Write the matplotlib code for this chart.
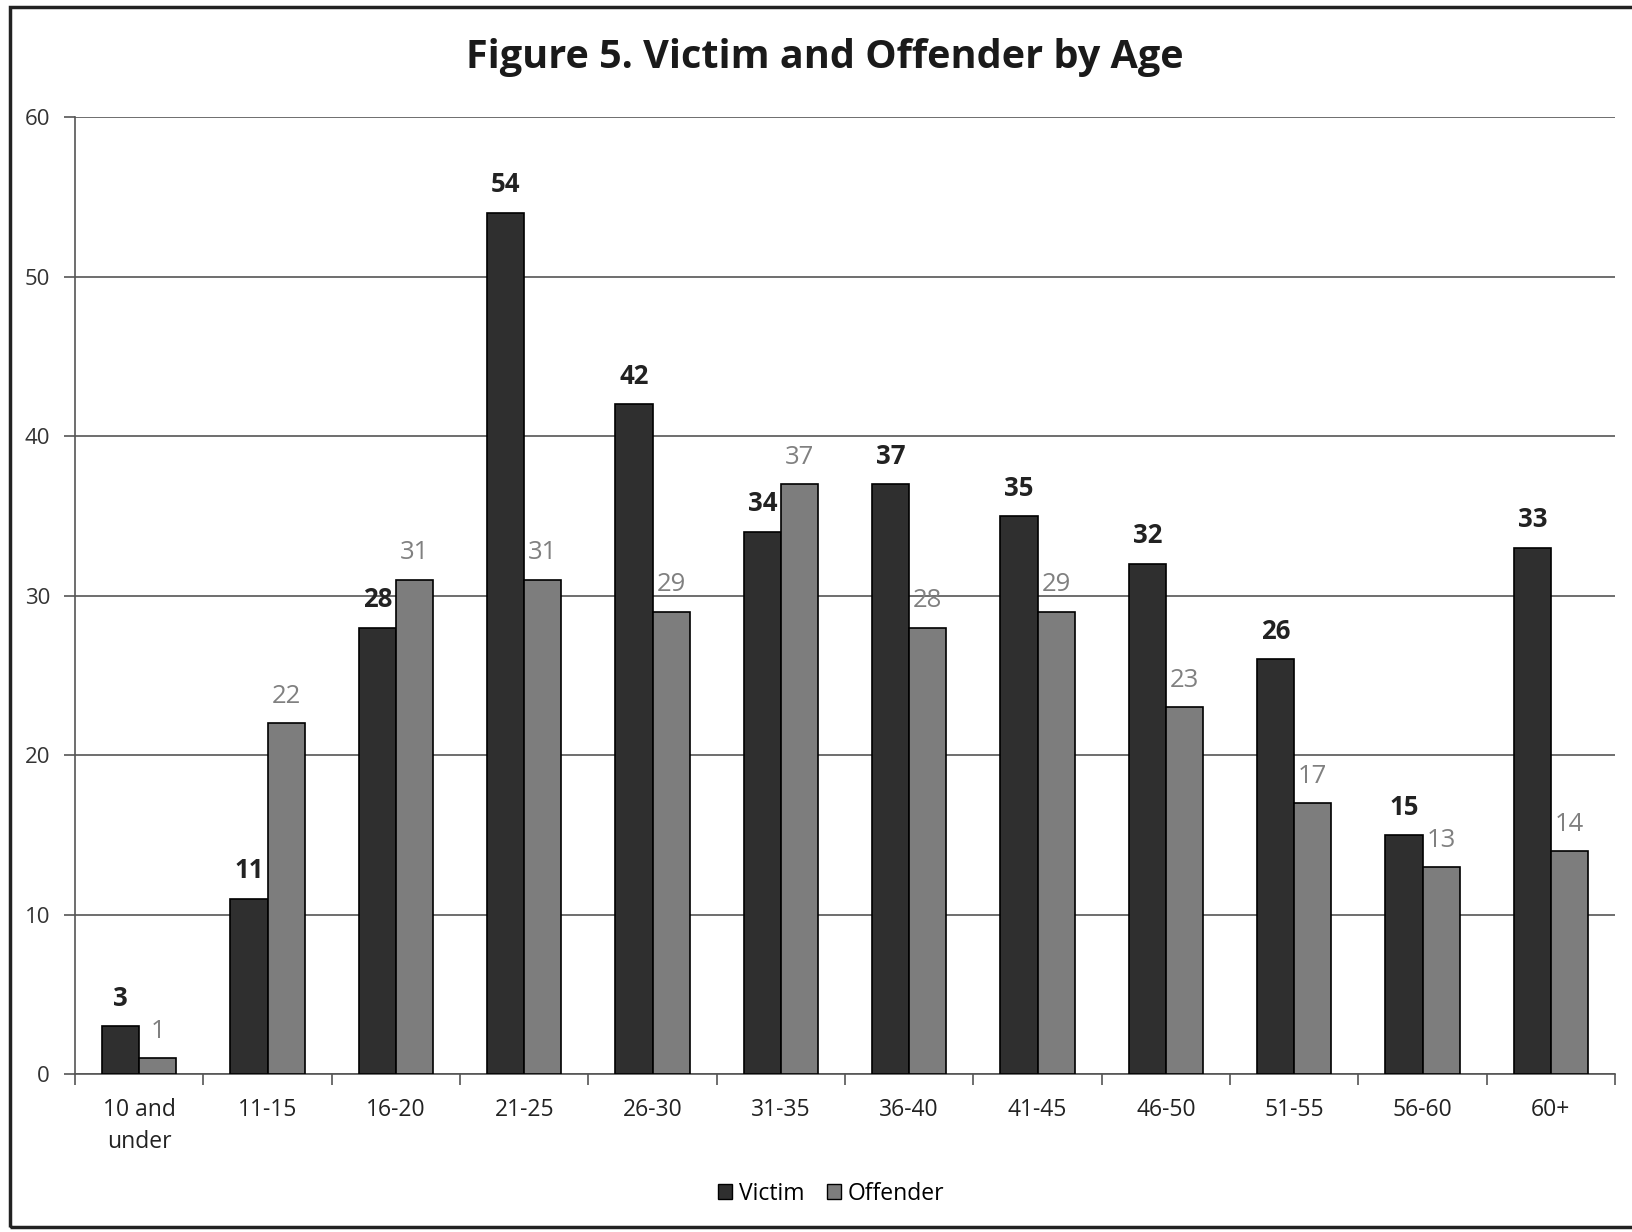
import matplotlib
matplotlib.use("Agg")
import matplotlib.pyplot as plt
from matplotlib.patches import Rectangle, Patch
import numpy as np

categories = ["10 and\nunder", "11-15", "16-20", "21-25", "26-30", "31-35",
              "36-40", "41-45", "46-50", "51-55", "56-60", "60+"]
victim = [3, 11, 28, 54, 42, 34, 37, 35, 32, 26, 15, 33]
offender = [1, 22, 31, 31, 29, 37, 28, 29, 23, 17, 13, 14]
yticks = [0, 10, 20, 30, 40, 50, 60]

plt.rcParams['font.family'] = ['Open Sans', 'DejaVu Sans']

fig = plt.figure(figsize=(16.33, 12.32), dpi=100)
ax = fig.add_axes([0.046, 0.128, 0.943, 0.777])

x = np.arange(len(categories))
w = 0.29
vc = '#2f2f2f'
oc = '#7d7d7d'
ax.bar(x - w/2, victim, w, color=vc, edgecolor='black', linewidth=1.2, label='Victim', zorder=3)
ax.bar(x + w/2, offender, w, color=oc, edgecolor='black', linewidth=1.2, label='Offender', zorder=3)

for xi, v in zip(x, victim):
    ax.text(xi - w/2, v + 0.9, str(v), ha='center', va='bottom', fontsize=18.5,
            fontweight='bold', color='#222222')
for xi, v in zip(x, offender):
    ax.text(xi + w/2, v + 0.9, str(v), ha='center', va='bottom', fontsize=18.5,
            color='#808080')

ax.set_xlim(-0.5, len(categories) - 0.5)
ax.set_ylim(0, 60)
ax.set_yticks(yticks)
ax.set_yticklabels([str(t) for t in yticks], fontsize=16, color='#333333')
ax.yaxis.grid(True, color='#555555', linewidth=1.2, zorder=0)
ax.set_axisbelow(True)

ax.set_xticks(x)
ax.set_xticklabels(categories, fontsize=16.5, color='#222222', linespacing=1.45)
ax.set_xticks(np.arange(len(categories) + 1) - 0.5, minor=True)
ax.tick_params(axis='x', which='major', length=0, pad=17)
ax.tick_params(axis='x', which='minor', length=8, color='#555555', width=1.2)
ax.tick_params(axis='y', length=8, color='#555555', width=1.2, pad=10)

for s in ['top', 'right']:
    ax.spines[s].set_visible(False)
ax.spines['left'].set_color('#555555')
ax.spines['bottom'].set_color('#555555')
ax.spines['left'].set_linewidth(1.2)
ax.spines['bottom'].set_linewidth(1.2)

fig.text(0.505, 0.953, "Figure 5. Victim and Offender by Age", ha='center', va='center',
         fontsize=28.5, fontweight='bold', color='#1a1a1a')

handles = [Patch(facecolor=vc, edgecolor='black', label='Victim'),
           Patch(facecolor=oc, edgecolor='black', label='Offender')]
fig.legend(handles=handles, loc='center', bbox_to_anchor=(0.509, 0.031), ncol=2,
           frameon=False, fontsize=16.5, handlelength=0.6, handleheight=0.6,
           handletextpad=0.3, columnspacing=1.0)

fig.add_artist(Rectangle((0.006, 0.004), 1.2, 0.99, transform=fig.transFigure,
                         fill=False, edgecolor='#222222', linewidth=2.5))

fig.savefig("out.png", dpi=100)
